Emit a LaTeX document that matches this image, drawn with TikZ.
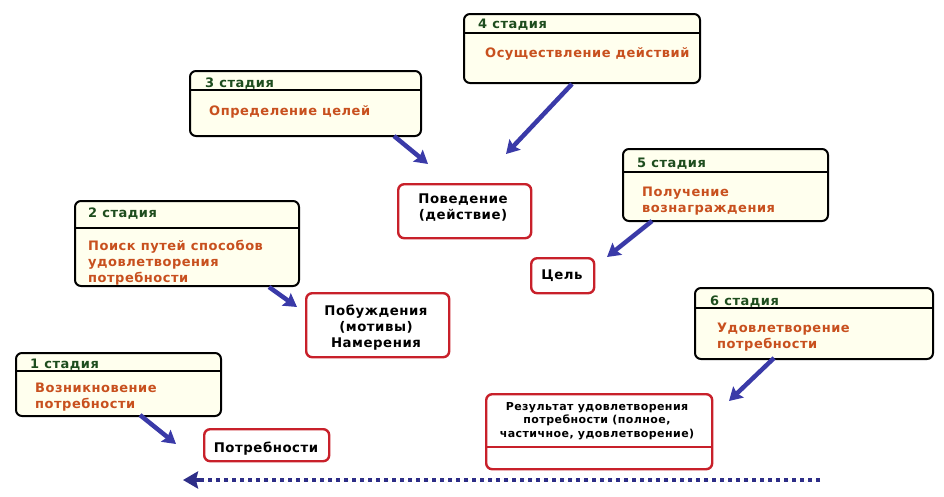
\documentclass[tikz,border=0pt]{standalone}
\usepackage{fontspec}
\setmainfont{DejaVu Sans}
\newfontfamily\vfont{DejaVu Sans}[LetterSpace=4]
\usetikzlibrary{arrows.meta}
\definecolor{cream}{HTML}{FFFFEE}
\definecolor{hdrgreen}{HTML}{1E4D1E}
\definecolor{bodyred}{HTML}{C8501E}
\definecolor{boxred}{HTML}{C8202A}
\definecolor{arrblue}{HTML}{3A3AA8}
\definecolor{dotblue}{HTML}{2E2E88}
\tikzset{
  x=1pt, y=-1pt,
  stagebox/.style={draw=black, line width=2pt, fill=cream, rounded corners=6pt, anchor=north west, inner sep=0pt},
  redbox/.style={draw=boxred, line width=2.4pt, fill=white, rounded corners=6pt, anchor=north west, inner sep=0pt},
  hdr/.style={anchor=base west, inner sep=0pt, text=hdrgreen, font=\vfont\bfseries\fontsize{13}{16}\selectfont},
  body/.style={anchor=base west, inner sep=0pt, text=bodyred, align=left, font=\vfont\bfseries\fontsize{13}{16}\selectfont},
  btxt/.style={anchor=base, inner sep=0pt, text=black, align=center, font=\vfont\bfseries\fontsize{13.3}{16}\selectfont},
  stxt/.style={anchor=base, inner sep=0pt, text=black, align=center, font=\vfont\bfseries\fontsize{11}{13.5}\selectfont},
  bigarrow/.style={draw=arrblue, line width=4.5pt, -{Stealth[length=13pt,width=15pt,inset=2pt]}},
}
\begin{document}
\begin{tikzpicture}
\useasboundingbox (0,0) rectangle (944,496);
% stage boxes
\node[stagebox, minimum width=205pt, minimum height=63pt] (s1) at (15,352) {};
\node[stagebox, minimum width=224pt, minimum height=85pt] (s2) at (74,200) {};
\node[stagebox, minimum width=231pt, minimum height=65pt] (s3) at (189,70) {};
\node[stagebox, minimum width=236pt, minimum height=69pt] (s4) at (463,13) {};
\node[stagebox, minimum width=205pt, minimum height=72pt] (s5) at (622,148) {};
\node[stagebox, minimum width=238pt, minimum height=71pt] (s6) at (694,287) {};
\draw[line width=1.2pt] (s1.west |- 0,371) -- (s1.east |- 0,371);
\draw[line width=1.2pt] (s2.west |- 0,228) -- (s2.east |- 0,228);
\draw[line width=1.2pt] (s3.west |- 0,90) -- (s3.east |- 0,90);
\draw[line width=1.2pt] (s4.west |- 0,33) -- (s4.east |- 0,33);
\draw[line width=1.2pt] (s5.west |- 0,172) -- (s5.east |- 0,172);
\draw[line width=1.2pt] (s6.west |- 0,308) -- (s6.east |- 0,308);
% stage texts (multi-line: position = baseline of last line)
\node[hdr] (h1) at (30,368) {1 стадия};
\node[body] (b1) at (35,408) {Возникновение\\потребности};
\node[hdr] (h2) at (88,217) {2 стадия};
\node[body] (b2) at (88,282) {Поиск путей способов\\удовлетворения\\потребности};
\node[hdr] (h3) at (205,87) {3 стадия};
\node[body] (b3) at (209,115) {Определение целей};
\node[hdr] (h4) at (478,28) {4 стадия};
\node[body] (b4) at (485,57) {Осуществление действий};
\node[hdr] (h5) at (637,167) {5 стадия};
\node[body] (b5) at (642,212) {Получение\\вознаграждения};
\node[hdr] (h6) at (710,305) {6 стадия};
\node[body] (b6) at (717,348) {Удовлетворение\\потребности};
% red boxes
\node[redbox, minimum width=125pt, minimum height=32pt] (r1) at (203,428) {};
\node[redbox, minimum width=143pt, minimum height=64pt] (r2) at (305,292) {};
\node[redbox, minimum width=133pt, minimum height=54pt] (r3) at (397,183) {};
\node[redbox, minimum width=63pt, minimum height=35pt] (r4) at (530,257) {};
\node[redbox, minimum width=226pt, minimum height=75pt] (r5) at (485,393) {};
\draw[draw=boxred, line width=1.2pt] (r5.west |- 0,447) -- (r5.east |- 0,447);
\node[btxt] (t1) at (266,452) {Потребности};
\node[btxt] (t2) at (376,347) {Побуждения\\(мотивы)\\Намерения};
\node[btxt] (t3) at (463,219) {Поведение\\(действие)};
\node[btxt] (t4) at (562,279) {Цель};
\node[stxt] (t5) at (597,437) {Результат удовлетворения\\потребности (полное,\\частичное, удовлетворение)};
% arrows
\coordinate (a1s) at (140,415); \coordinate (a1e) at (176,444);
\coordinate (a2s) at (269,287); \coordinate (a2e) at (297,307);
\coordinate (a3s) at (394,136); \coordinate (a3e) at (428,164);
\coordinate (a4s) at (572,84);  \coordinate (a4e) at (506,154);
\coordinate (a5s) at (652,221); \coordinate (a5e) at (607,257);
\coordinate (a6s) at (774,358); \coordinate (a6e) at (729,401);
\draw[bigarrow] (a1s) -- (a1e);
\draw[bigarrow] (a2s) -- (a2e);
\draw[bigarrow] (a3s) -- (a3e);
\draw[bigarrow] (a4s) -- (a4e);
\draw[bigarrow] (a5s) -- (a5e);
\draw[bigarrow] (a6s) -- (a6e);
% bottom dotted arrow
\coordinate (ds) at (820,480); \coordinate (de) at (183,480);
\draw[draw=dotblue, line width=4pt, dash pattern=on 4pt off 4pt] (ds) -- (200,480);
\draw[draw=dotblue, line width=4pt, -{Stealth[length=15pt,width=17pt,inset=2pt]}] (202,480) -- (de);
\end{tikzpicture}
\end{document}
